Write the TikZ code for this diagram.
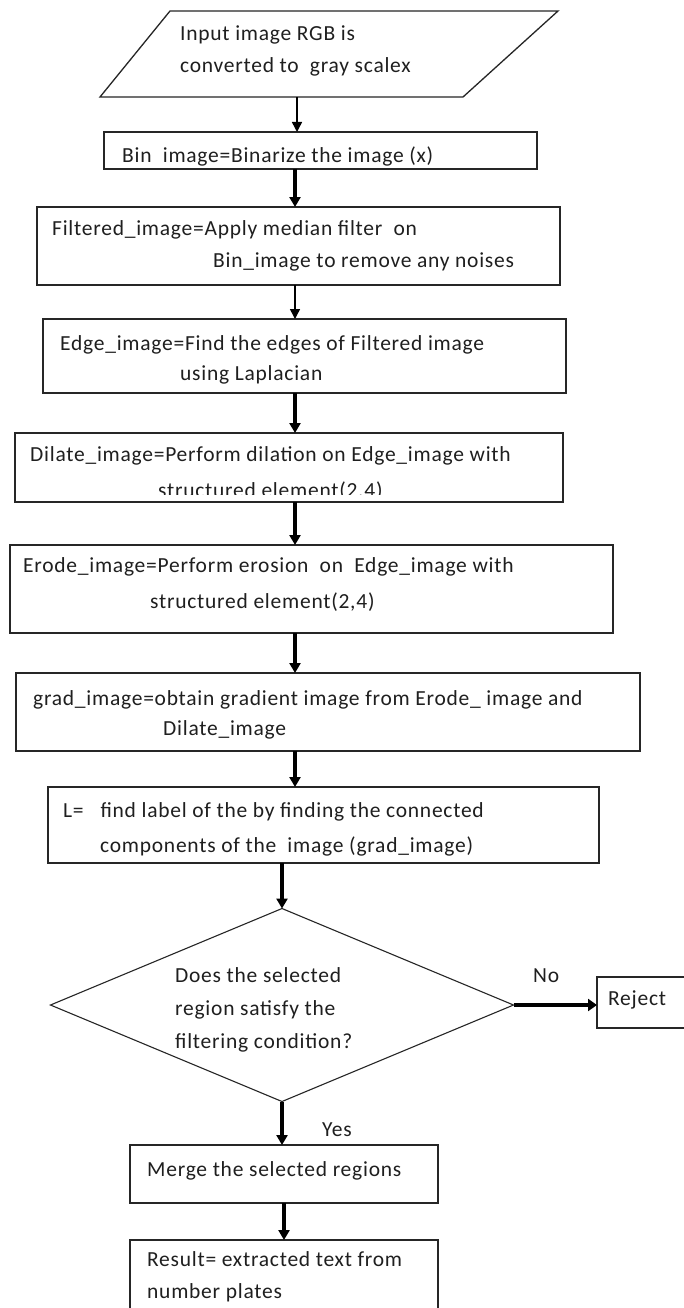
\documentclass[tikz,border=0pt]{standalone}
\usepackage{fontspec}
\setmainfont{Carlito}[LetterSpace=3.5]
\usetikzlibrary{arrows.meta,shapes.geometric}
\begin{document}
\begin{tikzpicture}[x=1pt,y=-1pt,
  box/.style={draw=black!85,line width=1.3pt,rectangle,inner sep=0pt,outer sep=0pt},
  txt/.style={anchor=west,inner sep=0pt,text=black!88,font=\fontsize{21.5}{25}\selectfont,text height=15pt,text depth=4pt},
  thinarr/.style={draw=black,line width=1.5pt,-{Triangle[width=10pt,length=10pt]}},
  thickarr/.style={draw=black,line width=3.4pt,-{Triangle[width=11pt,length=10pt]}},
  noarr/.style={draw=black,line width=4.5pt,-{Triangle[width=12pt,length=9pt]}}]
\useasboundingbox[fill=white] (0,0) rectangle (683,1308);

% parallelogram (input)
\draw[draw=black!85,line width=1.3pt] (170,11) -- (558,11) -- (463,97) -- (100,97) -- cycle;
\coordinate (p) at (297,97);
\node[txt] (t1a) at (180,35) {Input image RGB is};
\node[txt] (t1b) at (180,67) {converted to\ \ gray scalex};

% boxes
\node[box,minimum width=433pt,minimum height=37pt] (bin) at (320.5,150.5) {};
\node[box,minimum width=523pt,minimum height=78pt] (filt) at (298.5,246) {};
\node[box,minimum width=523pt,minimum height=74pt] (edge) at (304.5,356) {};
\node[box,minimum width=548pt,minimum height=69pt] (dil) at (289,467.5) {};
\node[box,minimum width=603pt,minimum height=88pt] (ero) at (311.5,589) {};
\node[box,minimum width=624pt,minimum height=78pt] (grad) at (328,712) {};
\node[box,minimum width=551pt,minimum height=76pt] (lab) at (323.5,825) {};
\node[draw=black!85,line width=1.1pt,diamond,inner sep=0pt,outer sep=0pt,minimum width=463pt,minimum height=193pt] (dec) at (282,1005) {};
\node[box,minimum width=100pt,minimum height=51pt] (rej) at (647,1002.5) {};
\node[box,minimum width=308pt,minimum height=58pt] (merge) at (284,1174) {};
\node[box,minimum width=308pt,minimum height=76pt] (res) at (284,1278) {};

% texts
\node[txt] at (122,157) {Bin\ \ image=Binarize the image (x)};
\node[txt] at (52,230) {Filtered\_image=Apply median filter\ \ on};
\node[txt] at (213,262) {Bin\_image to remove any noises};
\node[txt] at (60,345) {Edge\_image=Find the edges of Filtered image};
\node[txt] at (180,375) {using Laplacian};
\node[txt] at (30,456) {Dilate\_image=Perform dilation on Edge\_image with};
\begin{scope}
\clip (20,440) rectangle (560,494.5);
\node[txt] at (158,492) {structured element(2,4)};
\end{scope}
\node[txt] at (23,567) {Erode\_image=Perform erosion\ \ on\ \ Edge\_image with};
\node[txt] at (150,603) {structured element(2,4)};
\node[txt] at (33,700) {grad\_image=obtain gradient image from Erode\_ image and};
\node[txt] at (163,730) {Dilate\_image};
\node[txt] at (63,812) {L=\ \ \ find label of the by finding the connected};
\node[txt] at (100,847) {components of the\ \ image (grad\_image)};
\node[txt] at (175,977) {Does the selected};
\node[txt] at (175,1010) {region satisfy the};
\node[txt] at (175,1043) {filtering condition?};
\node[txt] (no) at (533,977) {No};
\node[txt] at (608,1000) {Reject};
\node[txt] (yes) at (322,1131) {Yes};
\node[txt] at (147,1171) {Merge the selected regions};
\node[txt] at (147,1261) {Result= extracted text from};
\node[txt] at (147,1293) {number plates};

% connectors
\draw[thinarr] (p) -- (p |- bin.north);
\coordinate (c1) at (295,0);
\draw[thickarr] (c1 |- bin.south) -- (c1 |- filt.north);
\draw[thinarr] (c1 |- filt.south) -- (c1 |- edge.north);
\draw[thickarr] (c1 |- edge.south) -- (c1 |- dil.north);
\draw[thickarr] (c1 |- dil.south) -- (c1 |- ero.north);
\draw[thickarr] (c1 |- ero.south) -- (c1 |- grad.north);
\draw[thickarr] (c1 |- grad.south) -- (c1 |- lab.north);
\draw[thickarr] (dec.north |- lab.south) -- (dec.north);
\draw[noarr] (dec.east) -- (rej.west |- dec.east);
\draw[thickarr] (dec.south) -- (dec.south |- merge.north);
\draw[thickarr] (merge.south) -- (res.north);
\end{tikzpicture}
\end{document}
